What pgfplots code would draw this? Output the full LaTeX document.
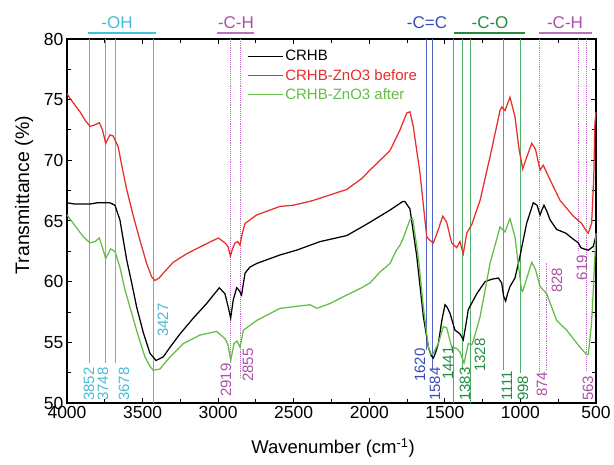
\documentclass[border=0pt]{standalone}
\usepackage{fontspec}
\setmainfont{Liberation Sans}
\usepackage{pgfplots}
\pgfplotsset{compat=1.18}

\definecolor{cred}{RGB}{232,45,42}
\definecolor{cgreen}{RGB}{100,188,70}
\definecolor{ohline}{RGB}{70,192,215}
\definecolor{ohtext}{RGB}{70,188,212}
\definecolor{chline}{RGB}{190,110,200}
\definecolor{chtext}{RGB}{170,80,170}
\definecolor{ccline}{RGB}{80,100,200}
\definecolor{cctext}{RGB}{55,75,185}
\definecolor{coline}{RGB}{80,175,105}
\definecolor{cotext}{RGB}{35,140,65}

\newcommand{\fs}[1]{\fontsize{#1}{#1}\selectfont}

\begin{document}
\begin{tikzpicture}
\begin{axis}[
    scale only axis,
    width=529pt, height=364pt,
    x dir=reverse,
    xmin=500, xmax=4000, ymin=50, ymax=80,
    xtick={500,1000,...,4000},
    ytick={50,55,...,80},
    minor x tick num=1, minor y tick num=1,
    major tick length=5pt, minor tick length=4pt,
    every tick/.style={black, line width=1pt},
    axis line style={line width=1.3pt},
    tick label style={font=\fs{17.5}},
    /pgf/number format/assume math mode=true,
    /pgf/number format/set thousands separator={},
    xlabel={Wavenumber (cm\textsuperscript{-1})},
    ylabel={Transmittance (\%)},
    every axis x label/.style={at={(axis description cs:0.503,0)}, anchor=center, yshift=-45pt, font=\fs{18.5}},
    every axis y label/.style={at={(axis description cs:0,0.571)}, anchor=center, xshift=-43pt, rotate=90, font=\fs{19.5}},
    clip=false,
    legend style={at={(axis description cs:0.34,0.975)}, anchor=north west,
        draw=none, fill=none, inner sep=0pt, font=\fs{15}, row sep=3pt},
    legend cell align=left,
    legend image code/.code={\draw[#1] (0pt,0pt) -- (35pt,0pt);},
]

% band markers
\draw[ohline, line width=1.1pt] (axis cs:3852,80) -- (axis cs:3852,53.3);
\draw[ohline, line width=1.1pt] (axis cs:3748,80) -- (axis cs:3748,53.3);
\draw[ohline, line width=1.1pt] (axis cs:3678,80) -- (axis cs:3678,53.3);
\draw[ohline, line width=1.1pt] (axis cs:3427,80) -- (axis cs:3427,50);
\draw[chline, line width=0.9pt, densely dotted] (axis cs:2919,80) -- (axis cs:2919,53.3);
\draw[chline, line width=0.9pt, densely dotted] (axis cs:2855,80) -- (axis cs:2855,52.0);
\draw[ccline, line width=1.1pt] (axis cs:1620,80) -- (axis cs:1620,54.4);
\draw[ccline, line width=1.1pt] (axis cs:1584,80) -- (axis cs:1584,52.7);
\draw[coline, line width=1.1pt] (axis cs:1441,80) -- (axis cs:1441,50);
\draw[coline, line width=1.1pt] (axis cs:1383,80) -- (axis cs:1383,52.7);
\draw[coline, line width=1.1pt] (axis cs:1328,80) -- (axis cs:1328,50);
\draw[coline, line width=1.1pt] (axis cs:1111,80) -- (axis cs:1111,52.7);
\draw[coline, line width=1.1pt] (axis cs:998,80) -- (axis cs:998,52.5);
\draw[chline, line width=0.9pt, densely dotted] (axis cs:874,80) -- (axis cs:874,52.5);
\draw[chline, line width=1.4pt, densely dotted] (axis cs:828,61.5) -- (axis cs:828,52.7);
\draw[chline, line width=0.9pt, densely dotted] (axis cs:619,80) -- (axis cs:619,62.6);
\draw[chline, line width=0.9pt, densely dotted] (axis cs:563,80) -- (axis cs:563,52.7);

\addplot[black, line width=1.25pt] coordinates {
(4000,66.5) (3950,66.4) (3900,66.4) (3848,66.4) (3800,66.5) (3716,66.5)
(3683,66.3) (3650,65.1) (3627,63.4) (3605,61.8) (3572,59.9) (3539,57.9)
(3495,55.8) (3451,54.1) (3411,53.5) (3363,53.8) (3318,54.6) (3252,55.7)
(3164,57.0) (3076,58.2) (2992,59.5) (2955,59.0) (2933,57.9) (2917,57.0)
(2900,58.5) (2877,59.5) (2862,59.3) (2845,58.9) (2822,60.7) (2790,61.2)
(2745,61.5) (2591,62.2) (2480,62.6) (2326,63.3) (2149,63.8) (2050,64.5)
(1995,64.9) (1863,65.9) (1779,66.6) (1764,66.6) (1742,66.2) (1731,66.0)
(1686,62.1) (1642,57.1) (1609,54.6) (1590,53.9) (1576,53.7) (1560,54.2)
(1543,54.9) (1520,56.8) (1499,58.1) (1485,57.9) (1466,57.4) (1433,56.0)
(1400,55.7) (1378,55.2) (1360,56.5) (1345,57.7) (1289,59.0) (1234,60.0)
(1190,60.2) (1146,60.3) (1124,59.9) (1111,58.8) (1098,58.4) (1085,59.0)
(1069,59.6) (1036,60.3) (1003,62.1) (959,64.8) (915,66.5) (890,66.3)
(870,65.5) (858,65.9) (844,66.3) (825,65.8) (804,65.1) (760,64.3)
(700,64.0) (650,63.5) (617,63.2) (600,62.8) (580,62.7) (551,62.6)
(518,62.9) (500,63.8)
};
\addlegendentry{CRHB}

\addplot[cred, line width=1.25pt] coordinates {
(4000,75.5) (3980,75.1) (3950,74.6) (3914,74.0) (3880,73.3) (3848,72.8)
(3820,72.9) (3786,73.1) (3765,72.5) (3744,71.4) (3716,72.1) (3694,72.0)
(3661,71.1) (3638,69.6) (3605,67.6) (3561,65.4) (3517,63.4) (3473,61.5)
(3440,60.4) (3418,60.1) (3390,60.3) (3363,60.7) (3297,61.6) (3208,62.3)
(3098,63.0) (2999,63.6) (2955,63.2) (2935,62.9) (2919,62.1) (2905,62.7)
(2888,63.2) (2870,63.3) (2855,63.0) (2840,64.0) (2822,64.8) (2745,65.5)
(2591,66.2) (2503,66.3) (2400,66.6) (2370,66.7) (2149,67.6) (2050,68.5)
(1995,69.2) (1863,70.8) (1797,72.5) (1752,73.9) (1731,74.0) (1709,72.8)
(1664,68.9) (1620,63.7) (1598,63.4) (1576,63.2) (1543,64.3) (1514,65.4)
(1488,64.9) (1455,63.2) (1422,62.8) (1400,63.3) (1378,62.3) (1355,64.0)
(1322,64.7) (1267,66.7) (1201,70.3) (1135,74.1) (1124,74.4) (1102,74.1)
(1069,75.2) (1036,73.6) (1010,71.0) (985,69.3) (960,70.2) (925,71.4)
(900,70.9) (870,69.2) (849,69.6) (804,68.4) (738,66.7) (650,65.4)
(595,64.8) (565,64.2) (551,64.0) (529,64.8) (515,68.5) (507,73.1)
(500,74.0)
};
\addlegendentry{\textcolor{cred}{CRHB-ZnO3 before}}

\addplot[cgreen, line width=1.25pt] coordinates {
(4000,65.5) (3958,64.8) (3892,63.7) (3848,63.2) (3815,63.3) (3786,63.6)
(3765,62.8) (3744,61.9) (3711,62.7) (3683,62.5) (3650,61.2) (3616,59.3)
(3572,57.4) (3528,55.5) (3484,53.8) (3450,53.0) (3429,52.7) (3385,52.8)
(3318,53.8) (3230,54.9) (3120,55.6) (3010,55.9) (2955,55.3) (2935,54.8)
(2917,53.5) (2895,54.9) (2875,55.1) (2855,54.6) (2833,56.0) (2745,56.8)
(2591,57.8) (2392,58.1) (2348,57.8) (2260,58.2) (2149,58.9) (2050,59.5)
(1995,59.9) (1929,60.8) (1863,61.5) (1820,62.6) (1797,63.0) (1775,63.6)
(1731,65.1) (1713,65.2) (1676,62.1) (1642,57.9) (1609,54.6) (1590,54.0)
(1576,54.1) (1543,54.9) (1510,56.3) (1488,56.2) (1455,54.6) (1422,54.5)
(1400,54.2) (1373,53.3) (1345,54.9) (1322,54.8) (1312,55.1) (1267,57.1)
(1201,61.5) (1135,64.5) (1102,64.1) (1069,65.2) (1036,63.7) (1010,61.0)
(992,59.3) (985,59.2) (960,60.2) (925,61.6) (900,61.0) (870,59.6)
(840,59.2) (826,59.0) (760,56.8) (694,56.0) (606,54.6) (563,54.0)
(551,54.0) (530,56.5) (518,59.3) (500,64.0)
};
\addlegendentry{\textcolor{cgreen}{CRHB-ZnO3 after}}

% wavenumber labels
\begin{scope}[every node/.style={rotate=90, anchor=west, inner sep=0pt, font=\fs{15}}]
\node[text=ohtext] at (axis cs:3854,50.15) {3852};
\node[text=ohtext] at (axis cs:3762,50.15) {3748};
\node[text=ohtext] at (axis cs:3623,50.15) {3678};
\node[text=ohtext] at (axis cs:3365,55.44) {3427};
\node[text=chtext] at (axis cs:2948,50.5) {2919};
\node[text=chtext] at (axis cs:2802,51.73) {2855};
\node[text=cctext] at (axis cs:1664,51.73) {1620};
\node[text=cctext] at (axis cs:1565,50.15) {1584};
\node[text=cotext] at (axis cs:1479,51.9) {1441};
\node[text=cotext] at (axis cs:1367,50.15) {1383};
\node[text=cotext] at (axis cs:1268,52.55) {1328};
\node[text=cotext] at (axis cs:1089,50.15) {1111};
\node[text=cotext] at (axis cs:983,50.15) {998};
\node[text=chtext] at (axis cs:857,50.5) {874};
\node[text=chtext] at (axis cs:758,59.07) {828};
\node[text=chtext] at (axis cs:592,60.1) {619};
\node[text=chtext] at (axis cs:553,50.15) {563};
\end{scope}

% group labels
\draw[ohline, line width=1.4pt] (axis cs:3861,80.49) -- (axis cs:3411,80.49);
\draw[chtext!80, line width=1.4pt] (axis cs:3008,80.49) -- (axis cs:2763,80.49);
\draw[cotext, line width=1.4pt] (axis cs:1439,80.49) -- (axis cs:970,80.49);
\draw[chtext!80, line width=1.4pt] (axis cs:877,80.49) -- (axis cs:526,80.49);
\node[text=ohtext, font=\fs{17}] at (axis cs:3669,81.35) {-OH};
\node[text=chtext, font=\fs{17}] at (axis cs:2882,81.35) {-C-H};
\node[text=cctext, font=\fs{17}] at (axis cs:1618,81.35) {-C=C};
\node[text=cotext, font=\fs{17}] at (axis cs:1201,81.35) {-C-O};
\node[text=chtext, font=\fs{17}] at (axis cs:705,81.35) {-C-H};
\end{axis}
\pgfresetboundingbox
\path (-67pt,-61pt) rectangle (547pt,403pt);
\end{tikzpicture}
\end{document}
